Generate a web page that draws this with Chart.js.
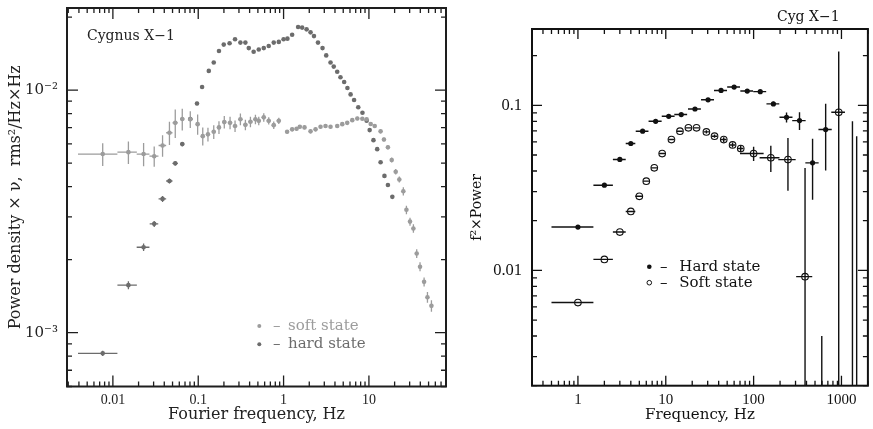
<!DOCTYPE html>
<html>
<head>
<meta charset="utf-8">
<script src="https://cdn.jsdelivr.net/npm/chart.js@4.4.1/dist/chart.umd.min.js"></script>
<style>
  body { margin: 0; background: #fff; }
  canvas { position: absolute; top: 0; }
  #leftChart { left: 0; }
  #rightChart { left: 460px; }
</style>
</head>
<body>
<canvas id="leftChart" width="460" height="429"></canvas>
<canvas id="rightChart" width="413" height="429"></canvas>
<script>
// ---- Left panel: Cygnus X-1, power density x frequency ----
const softFreq = [0.0076, 0.0152, 0.0229, 0.0305, 0.0382, 0.046, 0.0538, 0.065, 0.0807, 0.0984,
  0.113, 0.130, 0.152, 0.175, 0.202, 0.236, 0.270, 0.312, 0.357, 0.409, 0.468, 0.512, 0.586, 0.670, 0.767, 0.879,
  1.10, 1.26, 1.42, 1.55, 1.76, 2.07, 2.37, 2.71, 3.10, 3.55, 4.25, 4.87, 5.57, 6.38, 7.31, 8.37, 9.40,
  10.5, 11.7, 13.7, 15.0, 16.7, 18.5, 20.6, 22.7, 25.3, 27.5, 30.3, 33.2, 36.3, 39.7, 44.3, 48.5, 54.0];
const softPow = [5.45e-3, 5.55e-3, 5.45e-3, 5.34e-3, 5.91e-3, 6.67e-3, 7.33e-3, 7.60e-3, 7.58e-3, 7.24e-3,
  6.46e-3, 6.57e-3, 6.73e-3, 7.02e-3, 7.38e-3, 7.33e-3, 7.11e-3, 7.58e-3, 7.19e-3, 7.40e-3, 7.58e-3, 7.47e-3, 7.72e-3, 7.47e-3, 7.17e-3, 7.47e-3,
  6.73e-3, 6.89e-3, 6.93e-3, 7.06e-3, 7.02e-3, 6.76e-3, 6.89e-3, 7.06e-3, 7.11e-3, 7.06e-3, 7.11e-3, 7.24e-3, 7.33e-3, 7.52e-3, 7.64e-3, 7.62e-3, 7.58e-3,
  7.25e-3, 7.11e-3, 6.76e-3, 6.26e-3, 5.81e-3, 5.15e-3, 4.61e-3, 4.28e-3, 3.83e-3, 3.21e-3, 2.87e-3, 2.69e-3, 2.12e-3, 1.87e-3, 1.62e-3, 1.40e-3, 1.29e-3];
const softFreqErr = [0.0037, 0.0039, 0.0039, 0.0037, 0.0039, 0.0039, 0.0039, 0.0039, 0.0045, 0.005,
  0.006, 0.007, 0.008, 0.010, 0.012, 0.014, 0.016, 0.018, 0.021, 0.024, 0.027, 0.030, 0.034, 0.039, 0.045, 0.051,
  0, 0, 0, 0, 0, 0, 0, 0, 0, 0, 0, 0, 0, 0, 0, 0, 0,
  0, 0, 0, 0, 0, 0, 0, 0, 0, 0, 0, 0, 0, 0, 0, 0, 0];
const softPowErr = [0.59e-3, 0.59e-3, 0.60e-3, 0.51e-3, 0.60e-3, 0.73e-3, 0.99e-3, 0.78e-3, 0.60e-3, 0.69e-3,
  0.55e-3, 0.43e-3, 0.44e-3, 0.42e-3, 0.44e-3, 0.44e-3, 0.39e-3, 0.42e-3, 0.36e-3, 0.37e-3, 0.34e-3, 0.30e-3, 0.31e-3, 0.26e-3, 0.25e-3, 0.22e-3,
  0.12e-3, 0.12e-3, 0.12e-3, 0.12e-3, 0.12e-3, 0.12e-3, 0.12e-3, 0.12e-3, 0.12e-3, 0.12e-3, 0.12e-3, 0.12e-3, 0.12e-3, 0.12e-3, 0.12e-3, 0.12e-3, 0.12e-3,
  0.12e-3, 0.12e-3, 0.12e-3, 0.12e-3, 0.12e-3, 0.12e-3, 0.12e-3, 0.12e-3, 0.15e-3, 0.13e-3, 0.11e-3, 0.11e-3, 0.09e-3, 0.08e-3, 0.07e-3, 0.07e-3, 0.07e-3];

const hardFreq = [0.0076, 0.0152, 0.0229, 0.0305, 0.0382, 0.046, 0.0538, 0.065, 0.0807,
  0.0967, 0.111, 0.133, 0.152, 0.175, 0.199, 0.233, 0.270, 0.312, 0.357, 0.391, 0.446, 0.512, 0.586, 0.670, 0.767, 0.879,
  1.00, 1.11, 1.26, 1.48, 1.65, 1.86, 2.07, 2.27, 2.53, 2.86, 3.16, 3.55, 3.87, 4.25, 4.64, 5.13, 5.60, 6.10, 6.70, 7.50, 8.40, 9.40,
  10.2, 11.3, 12.5, 13.7, 15.2, 16.7, 18.8];
const hardPow = [0.822e-3, 1.57e-3, 2.25e-3, 2.81e-3, 3.56e-3, 4.22e-3, 4.99e-3, 5.99e-3, 7.60e-3,
  8.81e-3, 10.3e-3, 12.0e-3, 13.0e-3, 14.5e-3, 15.4e-3, 15.6e-3, 16.2e-3, 15.7e-3, 15.7e-3, 14.9e-3, 14.4e-3, 14.7e-3, 14.9e-3, 15.2e-3, 15.7e-3, 15.8e-3,
  16.2e-3, 16.3e-3, 16.9e-3, 18.2e-3, 18.1e-3, 17.8e-3, 17.3e-3, 16.7e-3, 15.7e-3, 14.9e-3, 13.9e-3, 13.0e-3, 12.5e-3, 11.9e-3, 11.3e-3, 10.8e-3, 10.2e-3, 9.6e-3, 9.1e-3, 8.5e-3, 8.06e-3, 7.48e-3,
  6.84e-3, 6.22e-3, 5.71e-3, 5.04e-3, 4.43e-3, 4.06e-3, 3.63e-3];
const hardFreqErr = [0.0037, 0.0039, 0.0039, 0.0035, 0.0039, 0.0039, 0.0039, 0.0039, 0.0045,
  0.005, 0, 0, 0, 0, 0, 0, 0, 0, 0, 0, 0, 0, 0, 0, 0, 0,
  0, 0, 0, 0, 0, 0, 0, 0, 0, 0, 0, 0, 0, 0, 0, 0, 0, 0, 0, 0, 0, 0,
  0, 0, 0, 0, 0, 0, 0];
const hardPowErr = [0.02e-3, 0.06e-3, 0.08e-3, 0.08e-3, 0.10e-3, 0.10e-3, 0.10e-3, 0.12e-3, 0.15e-3,
  0.15e-3, 0, 0, 0, 0, 0, 0, 0, 0, 0, 0, 0, 0, 0, 0, 0, 0,
  0, 0, 0, 0, 0, 0, 0, 0, 0, 0, 0, 0, 0, 0, 0, 0, 0, 0, 0, 0, 0, 0,
  0, 0, 0, 0, 0, 0, 0];

// ---- Right panel: Cyg X-1, f^2 x Power ----
const rHardFreq = [1, 2, 3, 4, 5.45, 7.67, 10.8, 15.0, 21.5, 30.3, 42.6, 60, 84.6, 119, 168, 237, 333, 469, 661];
const rHardPow = [0.0183, 0.0328, 0.047, 0.0587, 0.0697, 0.080, 0.0858, 0.0879, 0.095, 0.108, 0.123, 0.129, 0.122, 0.121, 0.102, 0.0846, 0.0808, 0.0448, 0.0713];
const rHardFreqErr = [0.5, 0.5, 0.5, 0.5, 0.9, 1.3, 1.8, 2.5, 3.6, 5.1, 7.2, 10, 14, 20, 28, 40, 58, 81, 114];
const rHardPowErr = [0, 0, 0, 0, 0, 0, 0, 0, 0, 0, 0, 0.002, 0.002, 0.002, 0.003, 0.006, 0.010, 0.018, 0.031];

const rSoftFreq = [1, 2, 3, 4, 5, 6, 7.4, 9.1, 11.6, 14.5, 18.1, 22.4, 29, 35.9, 45.7, 57.6, 71.3, 100, 157, 246, 385, 597, 931, 1334, 1490];
const rSoftPow = [0.00638, 0.01165, 0.01706, 0.02275, 0.0281, 0.0347, 0.0418, 0.051, 0.062, 0.0697, 0.073, 0.073, 0.069, 0.065, 0.062, 0.0575, 0.0547,
  0.051, 0.0481, 0.0469, 0.00916, 0.0012, 0.0907, 0.0012, 0.0012];
const rSoftFreqErr = [0.5, 0.5, 0.5, 0.5, 0.5, 0.5, 0.6, 0.7, 0.9, 1.1, 1.4, 1.7, 2.2, 2.7, 3.4, 4.3, 5.3, 30, 40, 55, 80, 0, 165, 0, 0];
// a pair means [down, up]
const rSoftPowErr = [0, 0, 0, 0, 0, 0, 0, 0, 0, 0, 0, 0, 0.0015, 0.0015, 0.002, 0.002, 0.0025, 0.005, 0.0087, 0.0165,
  [0.00915, 0.0326], [0.0011, 0.0028], [0.0906, 0.121], [0.0011, 0.0788], [0.0011, 0.0638]];

const leftXLabels = ['0.01', '0.1', '1', '10'];
const rightXLabels = ['1', '10', '100', '1000'];
const rightYLabels = ['0.01', '0.1'];

const SOFT_GREY = '#9c9c9c';
const HARD_GREY = '#6c6c6c';

function points(f, p) {
  return f.map((x, i) => ({ x: x, y: p[i] }));
}

const isDecade = v => Math.abs(Math.log10(v) - Math.round(Math.log10(v))) < 1e-9;
const SUP = { '-': '\u207B', '0': '\u2070', '1': '\u00B9', '2': '\u00B2', '3': '\u00B3', '4': '\u2074' };
const powerLabel = v => '10' + String(Math.round(Math.log10(v))).split('').map(c => SUP[c]).join('');

// all 1..9 x 10^n ticks between the axis limits
function logTicks(scale) {
  const out = [];
  const lo = Math.floor(Math.log10(scale.min)), hi = Math.ceil(Math.log10(scale.max));
  for (let e = lo; e <= hi; e++) {
    for (let m = 1; m < 10; m++) {
      const v = m * Math.pow(10, e);
      if (v >= scale.min * 0.999 && v <= scale.max * 1.001) out.push({ value: v });
    }
  }
  scale.ticks = out;
}

// error bars drawn through the library scales
const errorBars = {
  id: 'errorBars',
  beforeDatasetsDraw(chart) {
    const { ctx, chartArea: a, scales } = chart;
    ctx.save();
    ctx.beginPath();
    ctx.rect(a.left, a.top, a.right - a.left, a.bottom - a.top);
    ctx.clip();
    chart.data.datasets.forEach(ds => {
      ctx.strokeStyle = ds.errColor;
      ctx.lineWidth = ds.errWidth;
      ds.data.forEach((pt, i) => {
        const px = scales.x.getPixelForValue(pt.x);
        const py = scales.y.getPixelForValue(pt.y);
        const dx = ds.errX[i], dy = ds.errY[i];
        ctx.beginPath();
        if (dx) {
          ctx.moveTo(scales.x.getPixelForValue(pt.x - dx), py);
          ctx.lineTo(scales.x.getPixelForValue(pt.x + dx), py);
        }
        if (dy) {
          const down = Array.isArray(dy) ? dy[0] : dy;
          const up = Array.isArray(dy) ? dy[1] : dy;
          ctx.moveTo(px, scales.y.getPixelForValue(pt.y - down));
          ctx.lineTo(px, scales.y.getPixelForValue(pt.y + up));
        }
        ctx.stroke();
      });
    });
    ctx.restore();
  }
};

// box frame with inward ticks on all four sides
const frameTicks = {
  id: 'frameTicks',
  afterDraw(chart, args, opts) {
    const { ctx, chartArea: a, scales } = chart;
    ctx.save();
    ctx.strokeStyle = opts.color;
    ctx.lineWidth = opts.tickWidth;
    ctx.beginPath();
    scales.x.ticks.forEach(t => {
      const x = scales.x.getPixelForValue(t.value);
      const len = isDecade(t.value) ? opts.major : opts.minor;
      ctx.moveTo(x, a.bottom); ctx.lineTo(x, a.bottom - len);
      ctx.moveTo(x, a.top); ctx.lineTo(x, a.top + len);
    });
    scales.y.ticks.forEach(t => {
      const y = scales.y.getPixelForValue(t.value);
      const len = isDecade(t.value) ? opts.major : opts.minor;
      ctx.moveTo(a.left, y); ctx.lineTo(a.left + len, y);
      ctx.moveTo(a.right, y); ctx.lineTo(a.right - len, y);
    });
    ctx.stroke();
    ctx.lineWidth = opts.frameWidth;
    ctx.strokeRect(a.left, a.top, a.right - a.left, a.bottom - a.top);
    ctx.restore();
  }
};

// caption and in-plot legend
const notes = {
  id: 'notes',
  afterDraw(chart, args, opts) {
    const { ctx, chartArea: a } = chart;
    ctx.save();
    ctx.font = opts.captionFont;
    ctx.fillStyle = opts.captionColor;
    ctx.textBaseline = 'alphabetic';
    ctx.fillText(opts.caption, a.left + opts.captionX, a.top + opts.captionY);
    const lg = opts.legend;
    ctx.font = lg.font;
    chart.data.datasets.forEach((ds, i) => {
      const y = a.top + lg.y + i * lg.dy;
      ctx.beginPath();
      ctx.arc(a.left + lg.x, y, lg.r, 0, Math.PI * 2);
      if (ds.hollow) {
        ctx.strokeStyle = ds.borderColor; ctx.lineWidth = 1; ctx.stroke();
      } else {
        ctx.fillStyle = ds.backgroundColor; ctx.fill();
      }
      ctx.fillStyle = lg.colored ? ds.backgroundColor : lg.color;
      ctx.fillText('\u2013', a.left + lg.dashX, y + 4);
      ctx.fillText(ds.label, a.left + lg.textX, y + 4);
    });
    ctx.restore();
  }
};

function logAxis(min, max, labelFn, tickFont, color, pad, size, title) {
  return {
    type: 'logarithmic',
    min: min,
    max: max,
    grid: { display: false, drawTicks: false },
    border: { display: false },
    afterBuildTicks: logTicks,
    afterFit: s => {
      if (s.isHorizontal()) { s.height = size; s.paddingLeft = 0; s.paddingRight = 0; }
      else { s.width = size; s.paddingTop = 0; s.paddingBottom = 0; }
    },
    ticks: {
      autoSkip: false,
      maxRotation: 0,
      padding: pad,
      color: color,
      font: tickFont,
      callback: v => isDecade(v) ? labelFn(v) : ''
    },
    title: title
  };
}

// left chart
new Chart(document.getElementById('leftChart'), {
  type: 'scatter',
  data: {
    datasets: [
      { label: 'soft state', data: points(softFreq, softPow), errX: softFreqErr, errY: softPowErr,
        errColor: SOFT_GREY, errWidth: 1.3, pointRadius: 2.3, pointBorderWidth: 0,
        backgroundColor: SOFT_GREY, borderColor: SOFT_GREY },
      { label: 'hard state', data: points(hardFreq, hardPow), errX: hardFreqErr, errY: hardPowErr,
        errColor: HARD_GREY, errWidth: 1.3, pointRadius: 2.3, pointBorderWidth: 0,
        backgroundColor: HARD_GREY, borderColor: HARD_GREY }
    ]
  },
  options: {
    responsive: false,
    animation: false,
    layout: { padding: { left: 0, right: 14, top: 8, bottom: 0 } },
    scales: {
      x: logAxis(0.0029, 80, v => leftXLabels.find(l => Number(l) === v) || String(v),
        { family: 'Liberation Serif', size: 14 }, '#222', 5, 42.5,
        { display: true, text: 'Fourier frequency, Hz', color: '#222',
          font: { family: 'DejaVu Serif', size: 16 }, padding: { top: 0, bottom: 4.5 } }),
      y: logAxis(6.0e-4, 0.0218, powerLabel,
        { family: 'DejaVu Serif', size: 15 }, '#222', 9, 67,
        { display: true, text: 'Power density \u00D7 \u03BD,  rms\u00B2/Hz\u00D7Hz', color: '#222',
          font: { family: 'DejaVu Serif', size: 16 }, padding: { top: 6.5, bottom: 0 } })
    },
    plugins: {
      legend: { display: false },
      tooltip: { enabled: false },
      frameTicks: { color: '#1e1e1e', tickWidth: 1.3, frameWidth: 2, major: 11, minor: 5 },
      notes: {
        caption: 'Cygnus X\u22121', captionFont: '14px "DejaVu Serif"', captionColor: '#222',
        captionX: 20, captionY: 31.5,
        legend: { font: '15px "DejaVu Serif"', colored: true, x: 192.3, y: 318, dy: 18.3, r: 2, dashX: 206, textX: 221 }
      }
    }
  },
  plugins: [errorBars, frameTicks, notes]
});

// right chart
new Chart(document.getElementById('rightChart'), {
  type: 'scatter',
  data: {
    datasets: [
      { label: 'Hard state', data: points(rHardFreq, rHardPow), errX: rHardFreqErr, errY: rHardPowErr,
        errColor: '#111', errWidth: 1.4, pointRadius: 2.6, pointBorderWidth: 0,
        backgroundColor: '#111', borderColor: '#111' },
      { label: 'Soft state', data: points(rSoftFreq, rSoftPow), errX: rSoftFreqErr, errY: rSoftPowErr,
        errColor: '#111', errWidth: 1.4, pointRadius: 3.3, pointBorderWidth: 1.1, hollow: true,
        backgroundColor: 'rgba(0,0,0,0)', borderColor: '#111' }
    ]
  },
  options: {
    responsive: false,
    animation: false,
    layout: { padding: { left: 0, right: 3, top: 29, bottom: 0 } },
    scales: {
      x: logAxis(0.337, 2000, v => rightXLabels.find(l => Number(l) === v) || String(v),
        { family: 'Liberation Serif', size: 15 }, '#111', 5, 43.3,
        { display: true, text: 'Frequency, Hz', color: '#111',
          font: { family: 'DejaVu Serif', size: 15 }, padding: { top: 0, bottom: 4.5 } }),
      y: logAxis(0.002, 0.29, v => rightYLabels.find(l => Number(l) === v) || String(v),
        { family: 'Liberation Serif', size: 16.5 }, '#111', 10, 72,
        { display: true, text: 'f\u00B2\u00D7Power', color: '#111',
          font: { family: 'DejaVu Serif', size: 14 }, padding: { top: 8.6, bottom: 0 } })
    },
    plugins: {
      legend: { display: false },
      tooltip: { enabled: false },
      frameTicks: { color: '#111', tickWidth: 1.3, frameWidth: 2, major: 10, minor: 5 },
      notes: {
        caption: 'Cyg X\u22121', captionFont: '14px "DejaVu Serif"', captionColor: '#111',
        captionX: 245, captionY: -8.3,
        legend: { font: '15px "DejaVu Serif"', colored: false, color: '#111', x: 117.3, y: 237.7, dy: 16, r: 2.3, dashX: 128, textX: 147.3 }
      }
    }
  },
  plugins: [errorBars, frameTicks, notes]
});
</script>
</body>
</html>
